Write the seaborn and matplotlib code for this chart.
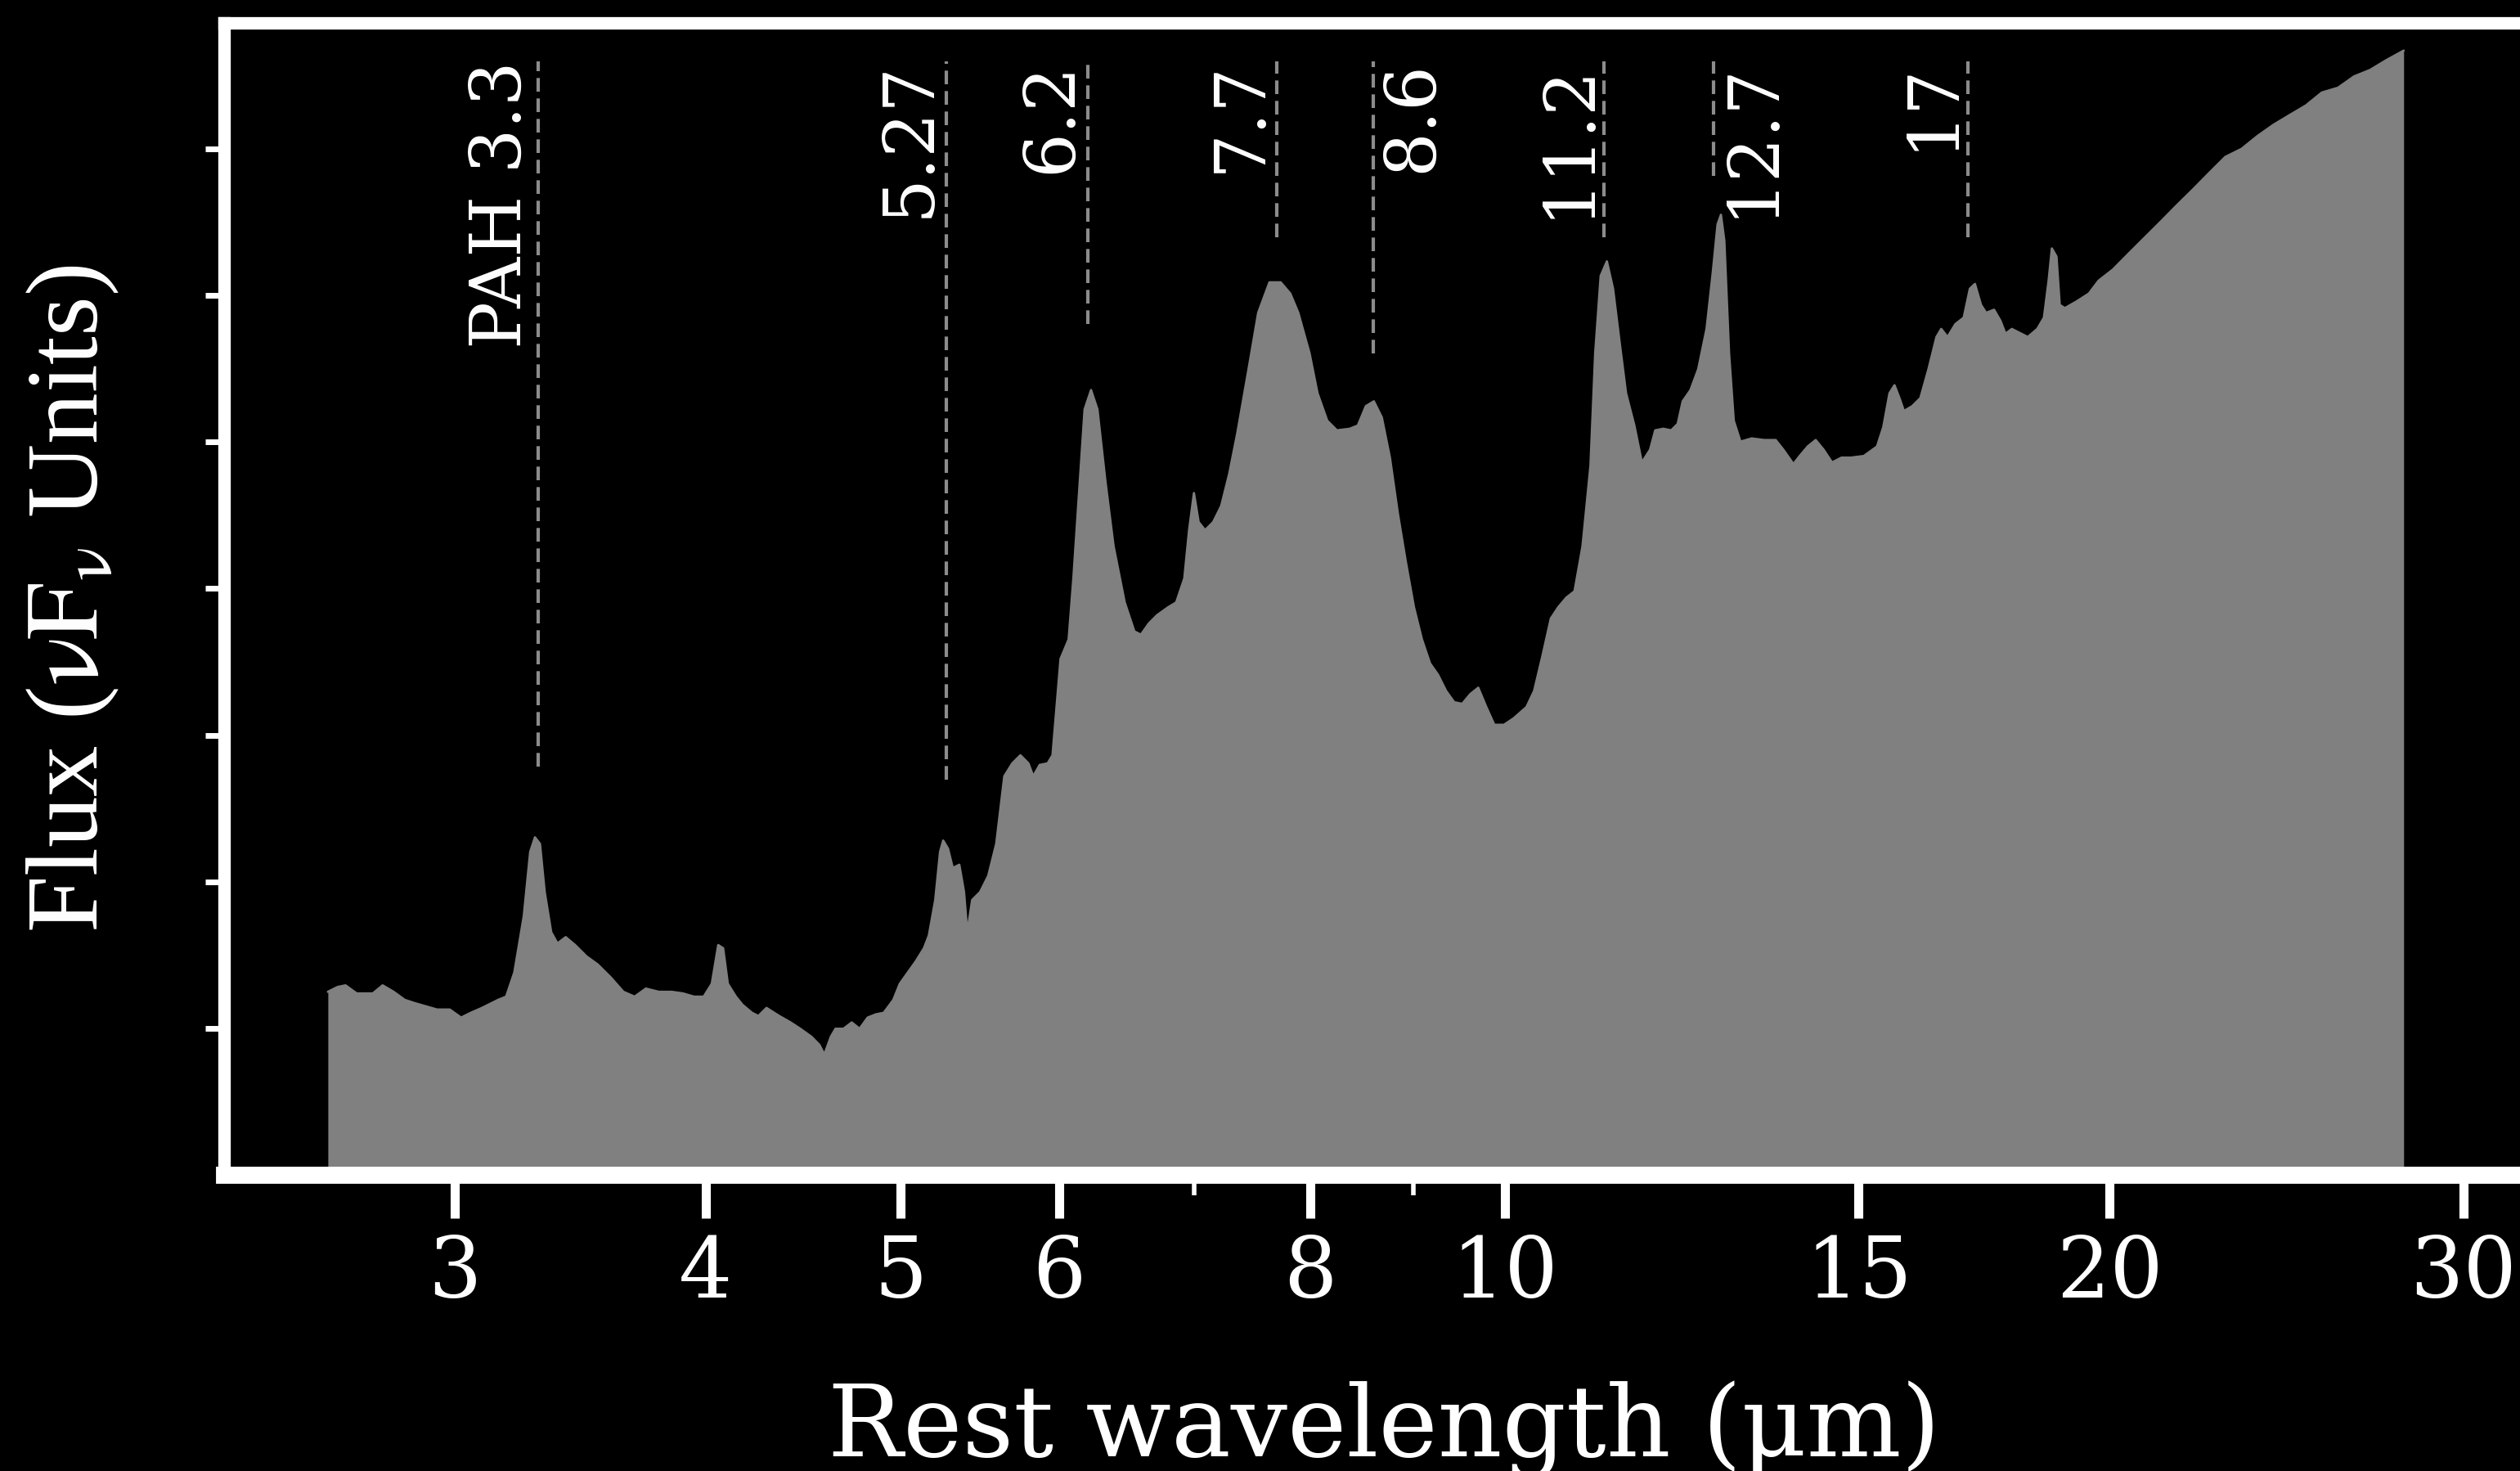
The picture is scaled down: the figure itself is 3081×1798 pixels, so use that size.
import numpy as np
import pandas as pd
import matplotlib
matplotlib.use('agg')
import matplotlib.pyplot as plt
from matplotlib.ticker import NullFormatter
import seaborn as sns

# spectrum (rest wavelength in um, flux in arbitrary units)
wavelength = [2.594, 2.623, 2.647, 2.681, 2.731, 2.762, 2.797, 2.833, 2.865, 2.902,
              2.940, 2.983, 3.022, 3.056, 3.095, 3.153, 3.182, 3.212, 3.247, 3.271,
              3.289, 3.308, 3.326, 3.351, 3.375, 3.407, 3.444, 3.489, 3.534, 3.587,
              3.640, 3.687, 3.735, 3.791, 3.847, 3.897, 3.947, 3.991, 4.028, 4.058,
              4.081, 4.103, 4.141, 4.172, 4.218, 4.249, 4.289, 4.352, 4.409, 4.458,
              4.516, 4.557, 4.583, 4.617, 4.642, 4.685, 4.729, 4.772, 4.816, 4.861,
              4.906, 4.960, 4.997, 5.043, 5.090, 5.137, 5.166, 5.204, 5.233, 5.252,
              5.281, 5.310, 5.350, 5.379, 5.399, 5.429, 5.479, 5.530, 5.581, 5.633,
              5.685, 5.738, 5.791, 5.823, 5.866, 5.920, 5.953, 6.008, 6.064, 6.097,
              6.142, 6.176, 6.222, 6.268, 6.326, 6.385, 6.467, 6.539, 6.588, 6.649,
              6.710, 6.797, 6.860, 6.924, 6.962, 7.001, 7.039, 7.091, 7.157, 7.223,
              7.290, 7.357, 7.453, 7.536, 7.634, 7.733, 7.819, 7.891, 7.993, 8.067,
              8.157, 8.248, 8.370, 8.448, 8.526, 8.605, 8.684, 8.765, 8.846, 8.927,
              9.010, 9.093, 9.178, 9.262, 9.348, 9.435, 9.522, 9.610, 9.699, 9.789,
              9.879, 9.989, 10.10, 10.25, 10.34, 10.44, 10.54, 10.63, 10.73, 10.83,
              10.93, 11.03, 11.09, 11.16, 11.24, 11.32, 11.41, 11.49, 11.60, 11.70,
              11.81, 11.88, 11.99, 12.10, 12.19, 12.26, 12.37, 12.48, 12.60, 12.69,
              12.76, 12.81, 12.86, 12.93, 13.00, 13.10, 13.27, 13.46, 13.64, 13.76,
              13.92, 14.02, 14.15, 14.28, 14.41, 14.55, 14.71, 14.87, 15.09, 15.32,
              15.43, 15.54, 15.63, 15.72, 15.80, 15.95, 16.10, 16.25, 16.40, 16.49,
              16.61, 16.76, 16.92, 17.04, 17.14, 17.26, 17.36, 17.52, 17.65, 17.75,
              17.88, 18.01, 18.21, 18.41, 18.55, 18.65, 18.72, 18.82, 18.89, 19.00,
              19.25, 19.53, 19.75, 20.08, 20.45, 20.83, 21.22, 21.61, 22.02, 22.42,
              22.84, 23.27, 23.70, 24.14, 24.59, 25.05, 25.51, 25.99, 26.47, 26.96,
              27.46, 28.02]
flux = [1.249, 1.282, 1.293, 1.238, 1.238, 1.293, 1.249, 1.194, 1.172, 1.150,
        1.128, 1.128, 1.073, 1.106, 1.139, 1.194, 1.216, 1.381, 1.765, 2.204,
        2.303, 2.259, 1.930, 1.655, 1.579, 1.622, 1.568, 1.491, 1.436, 1.348,
        1.249, 1.216, 1.271, 1.249, 1.249, 1.238, 1.216, 1.216, 1.304, 1.568,
        1.546, 1.304, 1.216, 1.161, 1.106, 1.084, 1.139, 1.084, 1.040, 0.997,
        0.942, 0.887, 0.821, 0.942, 0.997, 0.997, 1.040, 0.997, 1.073, 1.095,
        1.106, 1.194, 1.304, 1.381, 1.458, 1.546, 1.633, 1.875, 2.204, 2.281,
        2.226, 2.094, 2.116, 1.930, 1.655, 1.875, 1.930, 2.040, 2.259, 2.720,
        2.808, 2.863, 2.808, 2.720, 2.797, 2.808, 2.863, 3.521, 3.653, 4.070,
        4.729, 5.223, 5.355, 5.223, 4.729, 4.290, 3.906, 3.708, 3.686, 3.763,
        3.818, 3.873, 3.906, 4.070, 4.399, 4.652, 4.454, 4.399, 4.454, 4.564,
        4.784, 5.058, 5.497, 5.882, 6.090, 6.090, 6.013, 5.882, 5.607, 5.333,
        5.146, 5.080, 5.091, 5.113, 5.245, 5.278, 5.168, 4.894, 4.509, 4.180,
        3.873, 3.653, 3.489, 3.412, 3.302, 3.225, 3.214, 3.280, 3.324, 3.192,
        3.071, 3.071, 3.115, 3.192, 3.302, 3.543, 3.796, 3.873, 3.939, 3.982,
        4.290, 4.839, 5.607, 6.134, 6.233, 6.046, 5.662, 5.333, 5.113, 4.861,
        4.948, 5.080, 5.091, 5.080, 5.124, 5.278, 5.355, 5.497, 5.772, 6.156,
        6.485, 6.551, 6.375, 5.607, 5.146, 5.003, 5.025, 5.014, 5.014, 4.948,
        4.850, 4.905, 4.970, 5.014, 4.948, 4.861, 4.894, 4.894, 4.905, 4.970,
        5.102, 5.333, 5.388, 5.300, 5.212, 5.245, 5.300, 5.497, 5.717, 5.772,
        5.717, 5.805, 5.849, 6.046, 6.079, 5.936, 5.882, 5.903, 5.827, 5.739,
        5.772, 5.750, 5.717, 5.772, 5.849, 6.101, 6.321, 6.266, 5.936, 5.914,
        5.958, 6.013, 6.101, 6.178, 6.288, 6.397, 6.507, 6.617, 6.727, 6.836,
        6.946, 7.001, 7.089, 7.166, 7.232, 7.297, 7.385, 7.418, 7.495, 7.539,
        7.605, 7.671]

# feature markers
line_pos = [3.3, 5.27, 6.2, 7.7, 8.6, 11.2, 12.7, 17]
line_labels = ['PAH 3.3', '5.27', '6.2', '7.7', '8.6', '11.2', '12.7', '17']
line_bottom = [2.786, 2.698, 5.805, 6.398, 5.607, 6.398, 6.815, 6.398]
label_side = ['left', 'left', 'left', 'left', 'right', 'left', 'right', 'left']
line_top = 7.6

xtick_values = [3, 4, 5, 6, 8, 10, 15, 20, 30]
ytick_values = [1, 2, 3, 4, 5, 6, 7]

sns.set_theme(style='ticks', rc={
    'figure.facecolor': 'black',
    'axes.facecolor': 'black',
    'axes.edgecolor': 'white',
    'axes.labelcolor': 'white',
    'text.color': 'white',
    'xtick.color': 'white',
    'ytick.color': 'white',
    'axes.grid': False,
})
plt.rcParams['font.family'] = ['DejaVu Serif']
plt.rcParams['mathtext.fontset'] = 'stix'

df = pd.DataFrame({'wavelength': wavelength, 'flux': flux})

fig = plt.figure(figsize=(15.405, 8.99), dpi=200, facecolor='black')
ax = fig.add_axes([0.08893, 0.20133, 0.92048, 0.78309])
ax.set_facecolor('black')

ax.fill_between(df['wavelength'], df['flux'], 0, color='#808080', lw=0, zorder=1)
sns.lineplot(data=df, x='wavelength', y='flux', color='#808080', lw=1.0, ax=ax, zorder=2)

ax.vlines(line_pos, line_bottom, line_top, colors='#8c8c8c',
          linestyles=[(0, (4.0, 2.0))], lw=1.5, zorder=3)
for pos, lab, side in zip(line_pos, line_labels, label_side):
    off = -1 if side == 'left' else 2
    ax.annotate(lab, xy=(pos, line_top), xytext=(off, 0), textcoords='offset points',
                rotation=90, ha='right' if side == 'left' else 'left', va='top',
                color='white', fontsize=31)

ax.set_xscale('log')
ax.set_xlim(2.303, 32.9)
ax.set_ylim(0, 7.86)
ax.set_xticks(xtick_values)
ax.set_xticklabels([str(v) for v in xtick_values])
ax.xaxis.set_minor_formatter(NullFormatter())
ax.set_yticks(ytick_values)
ax.tick_params(axis='y', labelleft=False, length=8.3, width=2.5, direction='out')
ax.tick_params(axis='y', which='minor', left=False)
ax.tick_params(axis='x', which='major', length=19, width=4, pad=7,
               labelsize=37, direction='out')
ax.tick_params(axis='x', which='minor', length=9, width=2, direction='out')

for side in ['left', 'top', 'right']:
    ax.spines[side].set_linewidth(5.5)
    ax.spines[side].set_color('white')
ax.spines['bottom'].set_linewidth(7.5)
ax.spines['bottom'].set_color('white')

ax.set_xlabel('Rest wavelength (μm)', fontsize=44, color='white', labelpad=29)
ax.set_ylabel(r'Flux ($\mathrm{\nu F_{\nu}}$ Units)', fontsize=45, color='white',
              fontfamily='Liberation Serif')
ax.yaxis.set_label_coords(-0.0445, 0.5)

fig.savefig('out.png', dpi=200, facecolor='black')
